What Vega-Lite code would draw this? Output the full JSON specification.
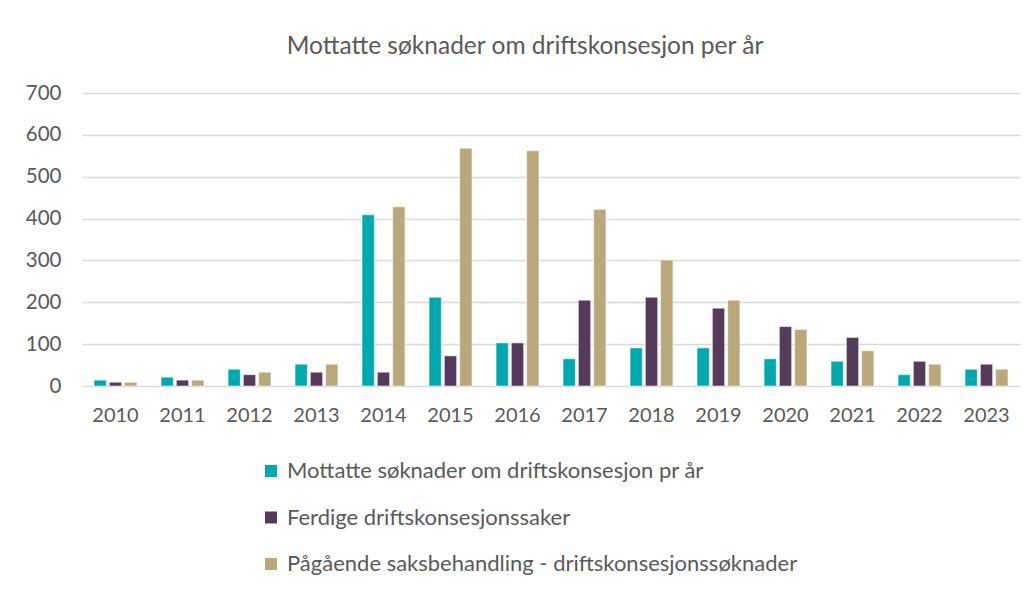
{
  "$schema": "https://vega.github.io/schema/vega-lite/v6.json",
  "width": 938,
  "height": 293,
  "autosize": {"type": "none"},
  "padding": {"left": 82, "top": 93, "right": 15, "bottom": 203},
  "background": "white",
  "title": {
    "text": "Mottatte søknader om driftskonsesjon per år",
    "fontSize": 24.5,
    "font": "Lato",
    "fontWeight": "normal",
    "color": "#595959",
    "anchor": "middle",
    "dx": -26,
    "offset": 24
  },
  "config": {
    "view": {"stroke": null},
    "font": "Lato"
  },
  "data": {
    "values": [
      {"year": "2010", "series": "Mottatte søknader om driftskonsesjon pr år", "value": 14},
      {"year": "2010", "series": "Ferdige driftskonsesjonssaker", "value": 9},
      {"year": "2010", "series": "Pågående saksbehandling - driftskonsesjonssøknader", "value": 9},
      {"year": "2011", "series": "Mottatte søknader om driftskonsesjon pr år", "value": 21},
      {"year": "2011", "series": "Ferdige driftskonsesjonssaker", "value": 14},
      {"year": "2011", "series": "Pågående saksbehandling - driftskonsesjonssøknader", "value": 14},
      {"year": "2012", "series": "Mottatte søknader om driftskonsesjon pr år", "value": 40},
      {"year": "2012", "series": "Ferdige driftskonsesjonssaker", "value": 27},
      {"year": "2012", "series": "Pågående saksbehandling - driftskonsesjonssøknader", "value": 33},
      {"year": "2013", "series": "Mottatte søknader om driftskonsesjon pr år", "value": 52},
      {"year": "2013", "series": "Ferdige driftskonsesjonssaker", "value": 33},
      {"year": "2013", "series": "Pågående saksbehandling - driftskonsesjonssøknader", "value": 52},
      {"year": "2014", "series": "Mottatte søknader om driftskonsesjon pr år", "value": 409},
      {"year": "2014", "series": "Ferdige driftskonsesjonssaker", "value": 33},
      {"year": "2014", "series": "Pågående saksbehandling - driftskonsesjonssøknader", "value": 428},
      {"year": "2015", "series": "Mottatte søknader om driftskonsesjon pr år", "value": 212},
      {"year": "2015", "series": "Ferdige driftskonsesjonssaker", "value": 72},
      {"year": "2015", "series": "Pågående saksbehandling - driftskonsesjonssøknader", "value": 568},
      {"year": "2016", "series": "Mottatte søknader om driftskonsesjon pr år", "value": 103},
      {"year": "2016", "series": "Ferdige driftskonsesjonssaker", "value": 103},
      {"year": "2016", "series": "Pågående saksbehandling - driftskonsesjonssøknader", "value": 562},
      {"year": "2017", "series": "Mottatte søknader om driftskonsesjon pr år", "value": 65},
      {"year": "2017", "series": "Ferdige driftskonsesjonssaker", "value": 205},
      {"year": "2017", "series": "Pågående saksbehandling - driftskonsesjonssøknader", "value": 422},
      {"year": "2018", "series": "Mottatte søknader om driftskonsesjon pr år", "value": 91},
      {"year": "2018", "series": "Ferdige driftskonsesjonssaker", "value": 212},
      {"year": "2018", "series": "Pågående saksbehandling - driftskonsesjonssøknader", "value": 301},
      {"year": "2019", "series": "Mottatte søknader om driftskonsesjon pr år", "value": 91},
      {"year": "2019", "series": "Ferdige driftskonsesjonssaker", "value": 186},
      {"year": "2019", "series": "Pågående saksbehandling - driftskonsesjonssøknader", "value": 205},
      {"year": "2020", "series": "Mottatte søknader om driftskonsesjon pr år", "value": 65},
      {"year": "2020", "series": "Ferdige driftskonsesjonssaker", "value": 142},
      {"year": "2020", "series": "Pågående saksbehandling - driftskonsesjonssøknader", "value": 135},
      {"year": "2021", "series": "Mottatte søknader om driftskonsesjon pr år", "value": 59},
      {"year": "2021", "series": "Ferdige driftskonsesjonssaker", "value": 116},
      {"year": "2021", "series": "Pågående saksbehandling - driftskonsesjonssøknader", "value": 84},
      {"year": "2022", "series": "Mottatte søknader om driftskonsesjon pr år", "value": 27},
      {"year": "2022", "series": "Ferdige driftskonsesjonssaker", "value": 59},
      {"year": "2022", "series": "Pågående saksbehandling - driftskonsesjonssøknader", "value": 52},
      {"year": "2023", "series": "Mottatte søknader om driftskonsesjon pr år", "value": 40},
      {"year": "2023", "series": "Ferdige driftskonsesjonssaker", "value": 52},
      {"year": "2023", "series": "Pågående saksbehandling - driftskonsesjonssøknader", "value": 40}
    ]
  },
  "mark": {"type": "bar", "stroke": "white", "strokeWidth": 0.5},
  "encoding": {
    "x": {
      "field": "year",
      "type": "nominal",
      "scale": {"paddingInner": 0.36, "paddingOuter": 0.18},
      "axis": {
        "title": null,
        "labelAngle": 0,
        "labelFontSize": 20,
        "labelColor": "#595959",
        "labelPadding": 19,
        "ticks": false,
        "domain": false,
        "grid": false
      }
    },
    "xOffset": {
      "field": "series",
      "type": "nominal",
      "sort": ["Mottatte søknader om driftskonsesjon pr år", "Ferdige driftskonsesjonssaker", "Pågående saksbehandling - driftskonsesjonssøknader"],
      "scale": {"paddingInner": 0.2}
    },
    "y": {
      "field": "value",
      "type": "quantitative",
      "scale": {"domain": [0, 700]},
      "axis": {
        "title": null,
        "values": [0, 100, 200, 300, 400, 500, 600, 700],
        "labelFontSize": 20.5,
        "labelColor": "#595959",
        "labelPadding": 21,
        "ticks": false,
        "domain": false,
        "gridColor": "#d9d9d9",
        "gridWidth": 1.5
      }
    },
    "color": {
      "field": "series",
      "type": "nominal",
      "sort": ["Mottatte søknader om driftskonsesjon pr år", "Ferdige driftskonsesjonssaker", "Pågående saksbehandling - driftskonsesjonssøknader"],
      "scale": {
        "domain": ["Mottatte søknader om driftskonsesjon pr år", "Ferdige driftskonsesjonssaker", "Pågående saksbehandling - driftskonsesjonssøknader"],
        "range": ["#00A9B0", "#553A5C", "#B8A87A"]
      },
      "legend": {
        "title": null,
        "orient": "none",
        "legendX": 178,
        "legendY": 367,
        "direction": "vertical",
        "symbolType": "square",
        "symbolSize": 144,
        "symbolStrokeWidth": 0,
        "labelFontSize": 22,
        "labelColor": "#595959",
        "labelLimit": 800,
        "labelOffset": 5,
        "rowPadding": 24.5
      }
    }
  }
}
